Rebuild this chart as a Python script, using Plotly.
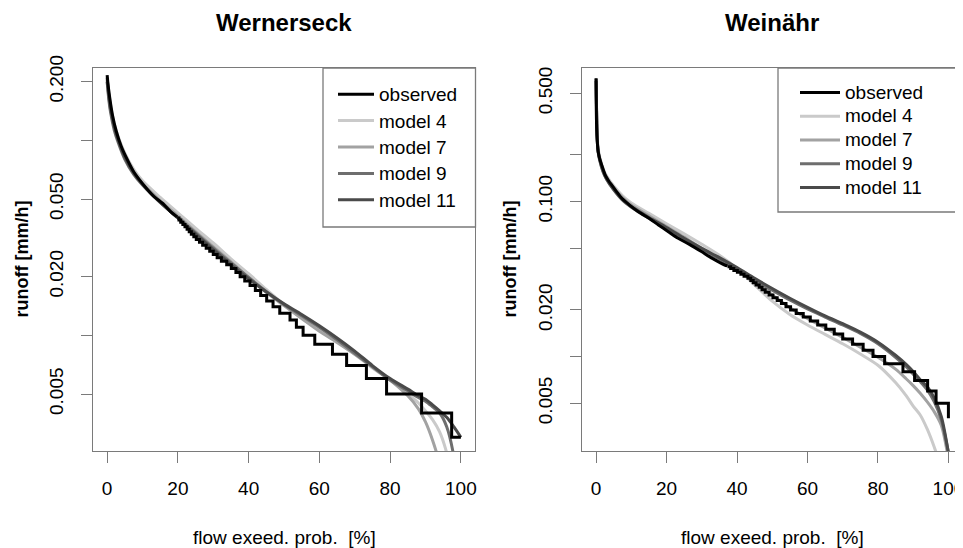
import plotly.graph_objects as go

W, H = 963, 548

# ---------------- data: Wernerseck ----------------
# upper, near-continuous part of the observed duration curve
w_obs_hi_x = [0, 0.3, 0.76, 1.5, 2.6, 4, 5.5, 7.5, 10, 13, 16, 18, 19.8]
w_obs_hi_q = [0.216, 0.19, 0.164, 0.135, 0.111, 0.093, 0.081, 0.069, 0.060, 0.052, 0.047, 0.043, 0.0405]
# lower part: quantised levels (start of each level)
w_obs_x = [19.8, 20.3, 20.8, 21.4, 22.0, 22.6, 23.2, 23.8, 24.5, 25.2, 26.1, 27.0,
           28.0, 29.0, 30.0, 31.1, 32.3, 33.8, 35.1, 36.4, 37.6, 38.9, 40.4, 41.9,
           43.4, 45.1, 46.9, 48.8, 51.7, 53.5, 55.4, 58.7, 63.7, 67.7, 73.3, 79.0,
           88.9, 97.4, 100]
w_obs_q = [0.040, 0.039, 0.038, 0.037, 0.036, 0.035, 0.034, 0.033, 0.032, 0.031, 0.030, 0.029,
           0.028, 0.027, 0.026, 0.025, 0.024, 0.023, 0.022, 0.021, 0.020, 0.019, 0.018, 0.017,
           0.016, 0.015, 0.014, 0.013, 0.012, 0.011, 0.010, 0.009, 0.008, 0.007, 0.006, 0.005,
           0.004, 0.003, 0.003]

model_x = [0, 0.5, 1, 2, 3, 5, 7.5, 10, 15, 20, 25, 30, 35, 40, 45, 50, 55, 60, 65, 70,
           75, 80, 85, 88, 90, 92, 94, 96, 98, 100]

w_m4 = [0.205, 0.175, 0.150, 0.122, 0.106, 0.086, 0.071, 0.062, 0.051, 0.0425, 0.0355, 0.0298,
        0.0247, 0.0207, 0.0172, 0.0144, 0.0123, 0.0106, 0.0093, 0.0080, 0.0068, 0.0059, 0.0050,
        0.0045, 0.0041, 0.0037, 0.0032, 0.0025, 0.0017, 0.0011]
w_m7 = [0.200, 0.165, 0.142, 0.117, 0.102, 0.083, 0.069, 0.060, 0.049, 0.041, 0.034, 0.0285,
        0.0238, 0.0198, 0.0166, 0.0142, 0.0122, 0.0105, 0.0092, 0.0080, 0.0069, 0.0059, 0.0049,
        0.0042, 0.0036, 0.0029, 0.0022, 0.0015, 0.0010, 0.0007]
w_m9 = [0.200, 0.160, 0.138, 0.113, 0.099, 0.080, 0.067, 0.059, 0.048, 0.040, 0.0335, 0.028,
        0.0235, 0.0198, 0.0168, 0.0144, 0.0126, 0.0110, 0.0095, 0.0081, 0.0069, 0.0059, 0.0052,
        0.0048, 0.0046, 0.0043, 0.0040, 0.0034, 0.0024, 0.0012]
w_m11 = [0.210, 0.168, 0.145, 0.118, 0.102, 0.082, 0.068, 0.0595, 0.048, 0.040, 0.033, 0.0275,
         0.0230, 0.0195, 0.0167, 0.0145, 0.0128, 0.0112, 0.0097, 0.0083, 0.0070, 0.0060, 0.0053,
         0.0049, 0.0047, 0.0044, 0.0041, 0.0038, 0.0034, 0.0030]

# ---------------- data: Weinähr ----------------
n_obs_hi_x = [0, 0.05, 0.15, 0.3, 0.6, 1.0, 1.6, 2.5, 3.4, 4.4, 5.8, 7.3, 9.5, 12, 15, 17.7,
              20.5, 23.3, 26.5, 29.9, 33, 36.5, 37.3]
n_obs_hi_q = [0.625, 0.40, 0.30, 0.25, 0.21, 0.19, 0.172, 0.150, 0.138, 0.128, 0.116, 0.105, 0.095,
              0.086, 0.078, 0.0707, 0.064, 0.058, 0.053, 0.0476, 0.043, 0.039, 0.0385]
n_obs_x = [37.3, 38.2, 39.1, 40.1, 41.1, 42.0, 43.1, 43.9, 44.6, 45.4, 46.3, 47.1, 48.0,
           49.1, 50.2, 51.4, 52.6, 53.9, 55.2, 56.8, 58.8, 60.8, 62.9, 65.2, 67.6, 70.0,
           72.8, 75.8, 78.6, 81.9, 87.1, 90.4, 94.1, 96.5, 100]
n_obs_q = [0.038, 0.037, 0.036, 0.035, 0.034, 0.033, 0.032, 0.031, 0.030, 0.029, 0.028, 0.027,
           0.026, 0.025, 0.024, 0.023, 0.022, 0.021, 0.020, 0.019, 0.018, 0.017, 0.016, 0.015,
           0.014, 0.013, 0.012, 0.011, 0.010, 0.009, 0.008, 0.007, 0.006, 0.005, 0.004]

n_m4 = [0.600, 0.230, 0.195, 0.163, 0.146, 0.126, 0.109, 0.098, 0.084, 0.072, 0.062, 0.053,
        0.045, 0.037, 0.0290, 0.0228, 0.0187, 0.0160, 0.0139, 0.0121, 0.0104, 0.0088, 0.0068,
        0.0056, 0.0048, 0.0042, 0.0034, 0.0026, 0.0019, 0.0012]
n_m7 = [0.600, 0.220, 0.190, 0.160, 0.143, 0.123, 0.106, 0.095, 0.081, 0.069, 0.059, 0.050,
        0.043, 0.0365, 0.0305, 0.025, 0.0207, 0.0176, 0.0153, 0.0133, 0.0115, 0.0099, 0.0083,
        0.0072, 0.0065, 0.0058, 0.0051, 0.0044, 0.0036, 0.0022]
n_m9 = [0.600, 0.215, 0.185, 0.155, 0.139, 0.119, 0.102, 0.092, 0.078, 0.067, 0.057, 0.049,
        0.0425, 0.0365, 0.031, 0.0268, 0.0232, 0.0203, 0.0180, 0.0160, 0.0141, 0.0121, 0.0099,
        0.0086, 0.0077, 0.0069, 0.0061, 0.0051, 0.0039, 0.0024]
n_m11 = [0.620, 0.220, 0.188, 0.157, 0.140, 0.120, 0.103, 0.093, 0.079, 0.068, 0.058, 0.050,
         0.0435, 0.0375, 0.032, 0.0275, 0.0238, 0.0208, 0.0183, 0.0163, 0.0144, 0.0124, 0.0102,
         0.0089, 0.0080, 0.0071, 0.0064, 0.0054, 0.0041, 0.0024]

series_names = ["observed", "model 4", "model 7", "model 9", "model 11"]
colors = ["#000000", "#cacaca", "#a2a2a2", "#6e6e6e", "#4a4a4a"]

w_yticks = [0.2, 0.1, 0.05, 0.02, 0.01, 0.005]
w_yticktext = ["0.200", "", "0.050", "0.020", "", "0.005"]
n_yticks = [0.5, 0.2, 0.1, 0.05, 0.02, 0.01, 0.005]
n_yticktext = ["0.500", "", "0.100", "", "0.020", "", "0.005"]
xticks = [0, 20, 40, 60, 80, 100]

titles = ["Wernerseck", "Weinähr"]
ylab = "runoff [mm/h]"
xlab = "flow exeed. prob. \u00a0[%]"

FONT = "Liberation Sans, Arial, Helvetica, sans-serif"
BOX = "#7a7a7a"
OFF = 8  # page body margin of the html page

def px(x):
    return (x - OFF) / W

def py(y):
    return 1 - (y - OFF) / H

def legname(name):
    return '<span style="font-size:19px">' + name + '</span>'

fig = go.Figure()

panels = [
    dict(hi=(w_obs_hi_x, w_obs_hi_q), obs=(w_obs_x, w_obs_q),
         models=[w_m4, w_m7, w_m9, w_m11], xa="x", ya="y", leg="legend"),
    dict(hi=(n_obs_hi_x, n_obs_hi_q), obs=(n_obs_x, n_obs_q),
         models=[n_m4, n_m7, n_m9, n_m11], xa="x2", ya="y2", leg="legend2"),
]

for p in panels:
    for i, m in enumerate(p["models"]):
        fig.add_trace(go.Scatter(
            x=model_x, y=m, mode="lines", name=legname(series_names[i + 1]),
            line=dict(color=colors[i + 1], width=3, shape="spline", smoothing=0.8),
            xaxis=p["xa"], yaxis=p["ya"], legend=p["leg"], legendrank=i + 2))
    fig.add_trace(go.Scatter(
        x=p["hi"][0], y=p["hi"][1], mode="lines", name=series_names[0],
        line=dict(color=colors[0], width=3, shape="spline", smoothing=0.6),
        xaxis=p["xa"], yaxis=p["ya"], legend=p["leg"], showlegend=False))
    fig.add_trace(go.Scatter(
        x=p["obs"][0], y=p["obs"][1], mode="lines", name=legname(series_names[0]),
        line=dict(color=colors[0], width=3, shape="hv"),
        xaxis=p["xa"], yaxis=p["ya"], legend=p["leg"], legendrank=1))

ydom = [py(451), py(68)]
common_x = dict(range=[-4, 104], tickmode="array", tickvals=xticks,
                ticktext=[str(t) for t in xticks], showline=True, mirror=True,
                linecolor=BOX, linewidth=1.3, ticks="outside", ticklen=11,
                tickcolor=BOX, tickwidth=1.3, showgrid=False, zeroline=False,
                tickfont=dict(size=19, color="black", family=FONT),
                ticklabelstandoff=9)
common_y = dict(type="log", tickmode="array", showline=True, mirror=True,
                linecolor=BOX, linewidth=1.3, ticks="outside", ticklen=11,
                tickcolor=BOX, tickwidth=1.3, showgrid=False, zeroline=False,
                tickangle=-90, tickfont=dict(size=19, color="black", family=FONT),
                ticklabelstandoff=10)

fig.update_layout(
    width=W, height=H, margin=dict(l=0, r=0, t=0, b=0, autoexpand=False),
    paper_bgcolor="white", plot_bgcolor="white",
    font=dict(family=FONT, color="black"),
    showlegend=True,
    xaxis=dict(domain=[px(93), px(475)], anchor="y", **common_x),
    yaxis=dict(domain=ydom, anchor="x", range=[-2.593, -0.629],
               tickvals=w_yticks, ticktext=w_yticktext, **common_y),
    xaxis2=dict(domain=[px(582), px(962.5)], anchor="y2", **common_x),
    yaxis2=dict(domain=ydom, anchor="x2", range=[-2.609, -0.138],
                tickvals=n_yticks, ticktext=n_yticktext, **common_y),
    legend=dict(x=px(333), y=py(76), xanchor="left", yanchor="top",
                bgcolor="rgba(0,0,0,0)", borderwidth=0, itemwidth=36,
                font=dict(size=18, family=FONT, color="black"), tracegroupgap=0),
    legend2=dict(x=px(795), y=py(75.5), xanchor="left", yanchor="top",
                 bgcolor="rgba(0,0,0,0)", borderwidth=0, itemwidth=40,
                 font=dict(size=16, family=FONT, color="black"), tracegroupgap=0),
)

# legend frames
fig.add_shape(type="rect", xref="paper", yref="paper", x0=px(323), x1=px(475.5),
              y0=py(227), y1=py(68), line=dict(color=BOX, width=1.3))
fig.add_shape(type="rect", xref="paper", yref="paper", x0=px(778), x1=px(962.5),
              y0=py(212), y1=py(68), line=dict(color=BOX, width=1.3))

centers = [284, 772]
ylab_x = [22, 510]
for i in range(2):
    fig.add_annotation(text=titles[i], x=px(centers[i]), y=1.0, xref="paper", yref="paper",
                       showarrow=False, xanchor="center", yanchor="top", borderpad=0,
                       font=dict(size=24, family=FONT, color="black", weight="bold"))
    fig.add_annotation(text=xlab, x=px(centers[i]), y=py(537), xref="paper", yref="paper",
                       showarrow=False, xanchor="center", yanchor="middle",
                       font=dict(size=19, family=FONT, color="black"))
    fig.add_annotation(text=ylab, x=px(ylab_x[i]), y=py(259.5), xref="paper", yref="paper",
                       showarrow=False, xanchor="center", yanchor="middle", textangle=-90,
                       font=dict(size=18, family=FONT, color="black", weight="bold"))

fig.write_html("out.html")
